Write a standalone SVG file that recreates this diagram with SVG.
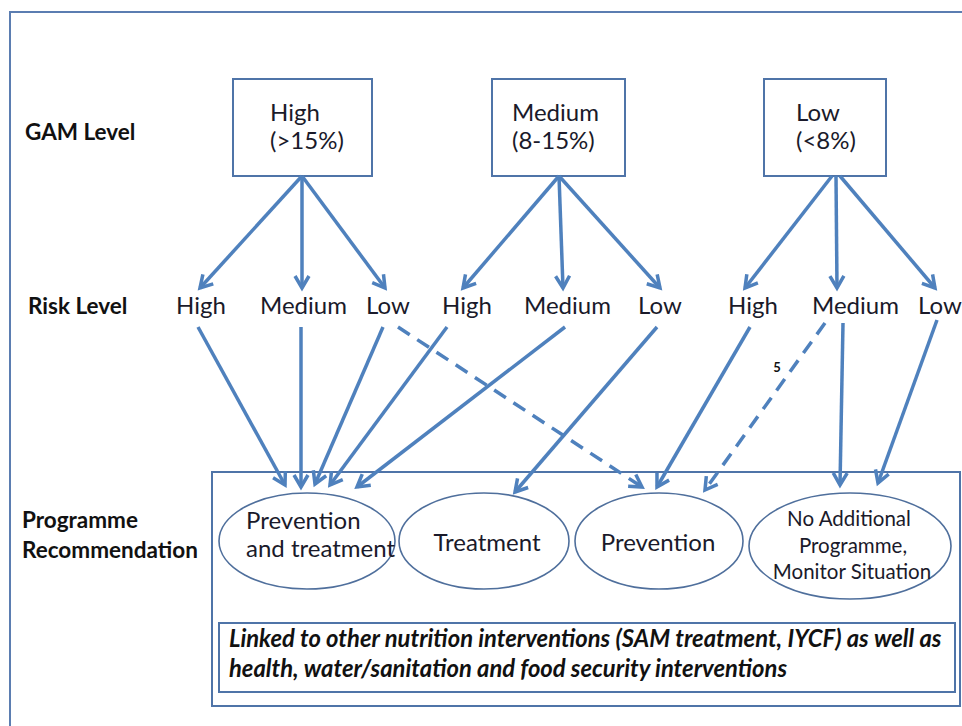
<svg xmlns="http://www.w3.org/2000/svg" width="962" height="726" viewBox="0 0 962 726">
<style>
.t{font-family:Lato,"Liberation Sans",sans-serif;font-size:24px;fill:#1a1a2a}
.lbl{font-family:Lato,"Liberation Sans",sans-serif;font-size:22.5px;font-weight:bold;fill:#111}
.sm{font-family:Lato,"Liberation Sans",sans-serif;font-size:20.5px;fill:#1a1a2a}
.note{font-family:Lato,"Liberation Sans",sans-serif;font-size:23.8px;font-weight:bold;font-style:italic;fill:#111}
.box{fill:#fff;stroke:#4f74a8;stroke-width:2}
.ell{fill:#fff;stroke:#4f6f9c;stroke-width:1.6}
.c{fill:none;stroke:#4f81bd;stroke-width:3.5;marker-end:url(#ah)}
.d{stroke-dasharray:14 9}
</style>
<defs>
<marker id="ah" markerUnits="userSpaceOnUse" markerWidth="20" markerHeight="20" viewBox="-14 -10 16 20" refX="0" refY="0" orient="auto">
<path d="M-12,-7 L0,0 L-12,7" fill="none" stroke="#4f81bd" stroke-width="3.5" stroke-linejoin="miter"/>
</marker>
</defs>
<rect width="962" height="726" fill="#fff"/>
<path d="M10,726 V12 H962" fill="none" stroke="#5b7db1" stroke-width="2"/>

<text class="lbl" x="25" y="140">GAM Level</text>
<text class="lbl" x="28" y="314">Risk Level</text>
<text class="lbl" x="22" y="528">Programme</text>
<text class="lbl" x="22" y="558">Recommendation</text>

<g id="gam-high"><rect class="box" x="233" y="79" width="139" height="97"/><text class="t" x="270" y="121">High</text><text class="t" x="270" y="149">(&gt;15%)</text></g>
<g id="gam-medium"><rect class="box" x="492" y="79" width="133" height="97"/><text class="t" x="512" y="121">Medium</text><text class="t" x="512" y="149">(8-15%)</text></g>
<g id="gam-low"><rect class="box" x="764" y="79" width="122" height="97"/><text class="t" x="796" y="121">Low</text><text class="t" x="796" y="149">(&lt;8%)</text></g>

<g id="risk-high-1"><text class="t" x="176" y="314">High</text></g>
<g id="risk-medium-1"><text class="t" x="260" y="314">Medium</text></g>
<g id="risk-low-1"><text class="t" x="366" y="314">Low</text></g>
<g id="risk-high-2"><text class="t" x="442" y="314">High</text></g>
<g id="risk-medium-2"><text class="t" x="524" y="314">Medium</text></g>
<g id="risk-low-2"><text class="t" x="638" y="314">Low</text></g>
<g id="risk-high-3"><text class="t" x="728" y="314">High</text></g>
<g id="risk-medium-3"><text class="t" x="812" y="314">Medium</text></g>
<g id="risk-low-3"><text class="t" x="918" y="314">Low</text></g>

<g id="programme">
<rect class="box" x="212" y="472" width="748" height="234" stroke-width="1.6"/>
</g>
<g id="rec-prevention-treatment"><ellipse class="ell" cx="307" cy="541" rx="88" ry="48"/><text class="t" x="246" y="529" font-size="23.5">Prevention</text><text class="t" x="246" y="557" font-size="23.5">and treatment</text></g>
<g id="rec-treatment"><ellipse class="ell" cx="484" cy="541" rx="85" ry="48"/><text class="t" x="487" y="551" text-anchor="middle">Treatment</text></g>
<g id="rec-prevention"><ellipse class="ell" cx="659" cy="541" rx="84" ry="48"/><text class="t" x="658" y="551" text-anchor="middle">Prevention</text></g>
<g id="rec-none"><ellipse class="ell" cx="850" cy="546" rx="101" ry="53"/><text class="sm" x="849" y="526" text-anchor="middle">No Additional</text><text class="sm" x="853" y="553" text-anchor="middle">Programme,</text><text class="sm" x="852" y="579" text-anchor="middle">Monitor Situation</text></g>
<g id="linked"><rect class="box" x="219" y="623" width="736" height="69" stroke-width="1.6"/><text class="note" x="229" y="647">Linked to other nutrition interventions (SAM treatment, IYCF) as well as</text><text class="note" x="229" y="677">health, water/sanitation and food security interventions</text></g>

<g id="connectors">
<line class="c" x1="302" y1="176" x2="200" y2="288"/>
<line class="c" x1="302" y1="176" x2="302" y2="288"/>
<line class="c" x1="302" y1="176" x2="385" y2="288"/>
<line class="c" x1="559" y1="176" x2="463" y2="288"/>
<line class="c" x1="559" y1="176" x2="563" y2="288"/>
<line class="c" x1="559" y1="176" x2="660" y2="288"/>
<line class="c" x1="832" y1="176" x2="745" y2="288"/>
<line class="c" x1="836" y1="176" x2="837" y2="288"/>
<line class="c" x1="840" y1="176" x2="935" y2="288"/>

<line class="c" x1="198" y1="327" x2="285" y2="485"/>
<line class="c" x1="301" y1="327" x2="301" y2="487"/>
<line class="c" x1="383" y1="327" x2="315" y2="484"/>
<line class="c" x1="447" y1="327" x2="330" y2="485"/>
<line class="c" x1="565" y1="327" x2="357" y2="487"/>
<line class="c" x1="657" y1="327" x2="515" y2="492"/>
<line class="c d" x1="398" y1="327" x2="642" y2="487"/>
<line class="c" x1="750" y1="327" x2="657" y2="487"/>
<line class="c d" x1="825" y1="323" x2="705" y2="490"/>
<line class="c" x1="843" y1="323" x2="840" y2="485"/>
<line class="c" x1="937" y1="320" x2="878" y2="483"/>
<text x="777" y="372" font-family="Lato,'Liberation Sans',sans-serif" font-size="13" font-weight="bold" fill="#111" text-anchor="middle">5</text>
</g>
</svg>
